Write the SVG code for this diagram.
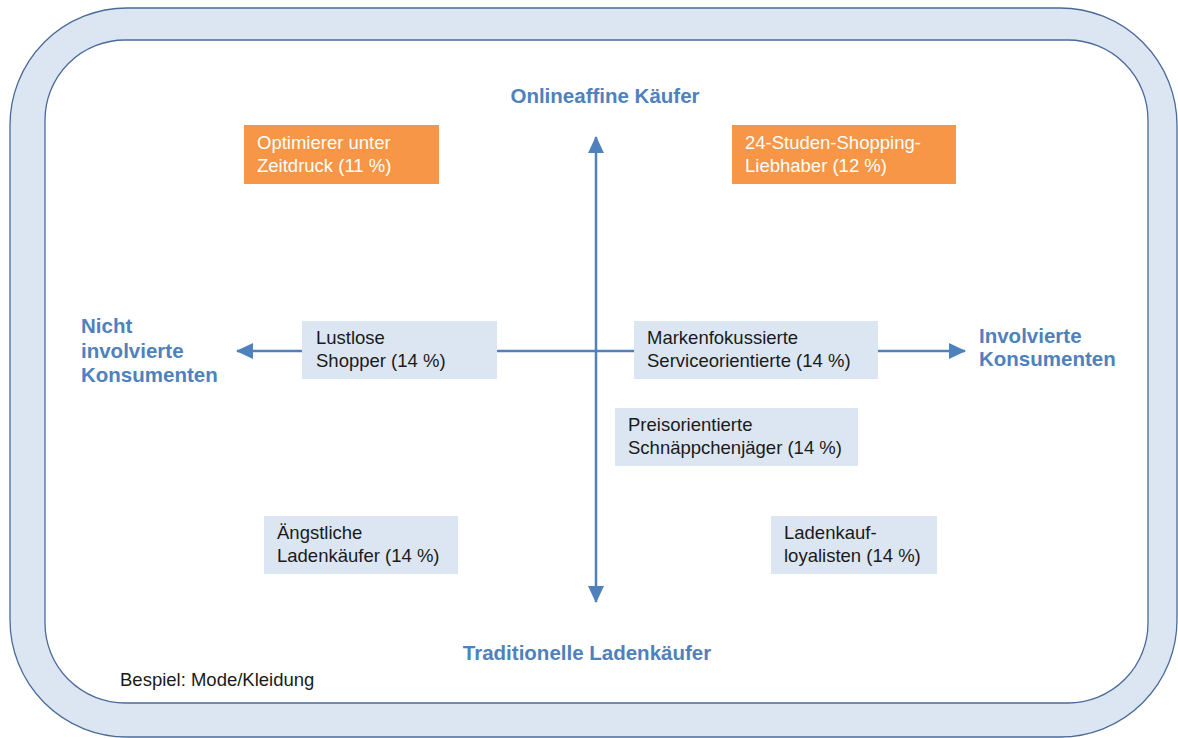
<svg xmlns="http://www.w3.org/2000/svg" width="1178" height="738" viewBox="0 0 1178 738">
<defs>
<style>
.frame{fill:#dce6f2;stroke:#4a6a9a;stroke-width:1.3}
.inner{fill:#ffffff;stroke:#4a6a9a;stroke-width:1.3}
.blue{fill:#dce6f2}
.orange{fill:#f79646}
.t{font-family:"Liberation Sans",Arial,sans-serif;font-size:18.5px;fill:#1a1a1a}
.tw{font-family:"Liberation Sans",Arial,sans-serif;font-size:18.5px;fill:#ffffff}
.ax{font-family:"Liberation Sans",Arial,sans-serif;font-size:20.5px;font-weight:bold;fill:#4f81bd}
.axis{stroke:#4f81bd;stroke-width:2.5;fill:none}
</style>
<marker id="arr" viewBox="0 0 17 16" refX="16" refY="8" markerWidth="17" markerHeight="16" markerUnits="userSpaceOnUse" orient="auto-start-reverse">
<path d="M0,0 L17,8 L0,16 Z" fill="#4f81bd"/>
</marker>
</defs>
<rect width="1178" height="738" fill="#ffffff"/>
<g id="frame">
<rect class="frame" x="10" y="8" width="1167" height="729" rx="117" ry="117"/>
<rect class="inner" x="45" y="40" width="1103" height="663" rx="80" ry="80"/>
</g>
<g id="connectors">
<line class="axis" x1="596" y1="137" x2="596" y2="602" marker-start="url(#arr)" marker-end="url(#arr)"/>
<line class="axis" x1="237" y1="351" x2="965" y2="351" marker-start="url(#arr)" marker-end="url(#arr)"/>
</g>
<g id="label-top"><text class="ax" x="605" y="103" text-anchor="middle">Onlineaffine Käufer</text></g>
<g id="label-bottom"><text class="ax" x="587" y="660" text-anchor="middle">Traditionelle Ladenkäufer</text></g>
<g id="label-left"><text class="ax" x="81" y="333">Nicht<tspan x="81" y="358">involvierte</tspan><tspan x="81" y="382">Konsumenten</tspan></text></g>
<g id="label-right"><text class="ax" x="979" y="343">Involvierte<tspan x="979" y="366">Konsumenten</tspan></text></g>
<g id="optimierer">
<rect class="orange" x="244" y="125" width="195" height="59"/>
<text class="tw" x="257" y="149">Optimierer unter<tspan x="257" y="172">Zeitdruck (11 %)</tspan></text>
</g>
<g id="studen">
<rect class="orange" x="732" y="125" width="224" height="59"/>
<text class="tw" x="745" y="149">24-Studen-Shopping-<tspan x="745" y="172">Liebhaber (12 %)</tspan></text>
</g>
<g id="lustlose">
<rect class="blue" x="302" y="321" width="195" height="58"/>
<text class="t" x="316" y="344">Lustlose<tspan x="316" y="367">Shopper (14 %)</tspan></text>
</g>
<g id="marken">
<rect class="blue" x="634" y="321" width="244" height="58"/>
<text class="t" x="647" y="344">Markenfokussierte<tspan x="647" y="367">Serviceorientierte (14 %)</tspan></text>
</g>
<g id="preis">
<rect class="blue" x="615" y="408" width="243" height="58"/>
<text class="t" x="628" y="431">Preisorientierte<tspan x="628" y="454">Schnäppchenjäger (14 %)</tspan></text>
</g>
<g id="aengstliche">
<rect class="blue" x="264" y="516" width="194" height="58"/>
<text class="t" x="277" y="539">Ängstliche<tspan x="277" y="562">Ladenkäufer (14 %)</tspan></text>
</g>
<g id="ladenkauf">
<rect class="blue" x="771" y="516" width="166" height="58"/>
<text class="t" x="784" y="539">Ladenkauf-<tspan x="784" y="562">loyalisten (14 %)</tspan></text>
</g>
<g id="note"><text class="t" x="120" y="686">Bespiel: Mode/Kleidung</text></g>
</svg>
